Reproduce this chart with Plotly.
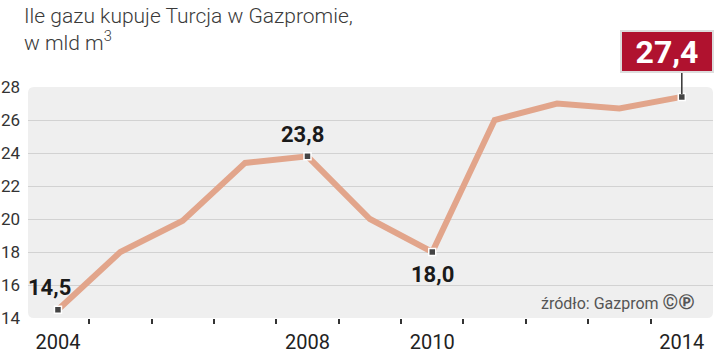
import plotly.graph_objects as go

years = [2004, 2005, 2006, 2007, 2008, 2009, 2010, 2011, 2012, 2013, 2014]
values = [14.5, 18.0, 19.9, 23.4, 23.8, 20.0, 18.0, 26.0, 27.0, 26.7, 27.4]
labeled_years = [2004, 2008, 2010, 2014]
x_tick_labels = ["2004", "2008", "2010", "2014"]
y_ticks = [14, 16, 18, 20, 22, 24, 26, 28]
title_text = "Ile gazu kupuje Turcja w Gazpromie,<br>w mld m<sup>3</sup>"
source_text = "źródło: Gazprom <b><span style='font-size:20px'>©℗</span></b>"

LINE = "#e2a58b"
BG = "#efefef"
DARK = "#222222"
NUM_FONT = "Roboto, DejaVu Sans Condensed, sans-serif"
TXT_FONT = "Roboto, Lato, Open Sans, sans-serif"

W, H = 720, 354
ML, MR, MT, MB = 28, 7, 87, 36
PW, PH = W - ML - MR, H - MT - MB

xr = [2003.52, 2014.5]
yr = [14, 28]

fig = go.Figure()

fig.add_trace(go.Scatter(
    x=years, y=values, mode="lines",
    line=dict(color=LINE, width=6), hoverinfo="skip", showlegend=False,
))

lab_vals = [values[years.index(y)] for y in labeled_years]
fig.add_trace(go.Scatter(
    x=labeled_years, y=lab_vals, mode="markers",
    marker=dict(symbol="square", size=7, color="#444444",
                line=dict(color="white", width=1.5)),
    hoverinfo="skip", showlegend=False,
))

# rounded background of plot area
rx = 6 / (PW / (xr[1] - xr[0]))
ry = 6 / (PH / (yr[1] - yr[0]))
x0, x1 = xr
y0, y1 = yr
path = (f"M {x0+rx},{y0} L {x1-rx},{y0} Q {x1},{y0} {x1},{y0+ry} "
        f"L {x1},{y1-ry} Q {x1},{y1} {x1-rx},{y1} L {x0+rx},{y1} "
        f"Q {x0},{y1} {x0},{y1-ry} L {x0},{y0+ry} Q {x0},{y0} {x0+rx},{y0} Z")
shapes = [dict(type="path", path=path, xref="x", yref="y", fillcolor=BG,
               line=dict(width=0), layer="below")]

annotations = []
shifts = {2004: (-8, 22), 2008: (-5, 22), 2010: (0, -22)}
for yv, v in zip(labeled_years, lab_vals):
    txt = f"{v:.1f}".replace(".", ",")
    if yv in shifts:
        dx, dy = shifts[yv]
        annotations.append(dict(
            x=yv, y=v, xref="x", yref="y", text=txt, showarrow=False,
            xshift=dx, yshift=dy,
            font=dict(family=NUM_FONT, size=22, color="#1a1a1a", weight="bold"),
        ))
    else:
        annotations.append(dict(
            x=yv, y=v, xref="x", yref="y", text=txt, showarrow=False,
            xshift=-15, yshift=45,
            bgcolor="#b0122f", bordercolor="#dddddd", borderwidth=2, borderpad=3,
            width=84, height=33,
            font=dict(family=NUM_FONT, size=32, color="white", weight="bold"),
        ))
        shapes.append(dict(type="line", xref="x", yref="paper", ysizemode="pixel",
                           x0=yv, x1=yv, yanchor=(v - yr[0]) / (yr[1] - yr[0]),
                           y0=3, y1=26,
                           line=dict(color="#333333", width=1.5)))

annotations.append(dict(
    x=(697 - ML) / PW, y=(H - 302 - MB) / PH, xref="paper", yref="paper",
    xanchor="right", yanchor="middle", showarrow=False,
    text=source_text, font=dict(family=TXT_FONT, size=16, color="#555555"),
))

annotations.append(dict(
    x=(22 - ML) / PW, y=(H - 2 - MB) / PH, xref="paper", yref="paper",
    xanchor="left", yanchor="top", align="left", showarrow=False,
    text=title_text,
    font=dict(family=TXT_FONT, size=21, color="#3a3a3a", weight=300),
))

fig.update_layout(
    width=W, height=H,
    margin=dict(l=ML, r=MR, t=MT, b=MB),
    paper_bgcolor="white", plot_bgcolor="white",
    xaxis=dict(range=xr, showgrid=False, zeroline=False, showline=False,
               automargin=False,
               tickmode="array", tickvals=labeled_years, ticktext=x_tick_labels,
               ticks="", ticklabelstandoff=10,
               tickfont=dict(family=TXT_FONT, size=20, color=DARK),
               minor=dict(tickmode="array",
                          tickvals=[y + 0.5 for y in years[:-1]],
                          ticks="outside", ticklen=5, tickwidth=1.5,
                          tickcolor="#333333", showgrid=False)),
    yaxis=dict(range=yr, showgrid=False, zeroline=False, showline=False,
               automargin=False,
               tickmode="array", tickvals=y_ticks, ticks="",
               ticklabelstandoff=7,
               tickfont=dict(family=TXT_FONT, size=17, color="#333333"),
               minor=dict(tickmode="array", tickvals=y_ticks[1:-1],
                          showgrid=True, gridcolor="#d2d2d2", gridwidth=1,
                          ticks="")),
    shapes=shapes,
    annotations=annotations,
)

fig.write_html("out.html")
